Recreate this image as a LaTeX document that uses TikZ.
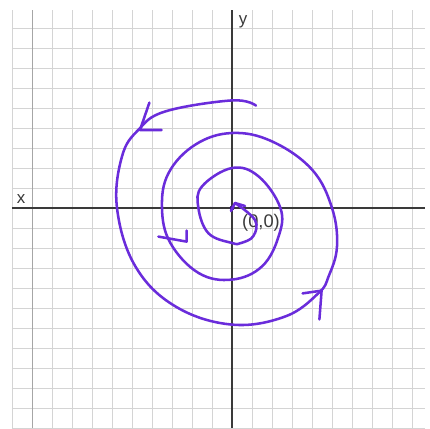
\documentclass[tikz,border=0pt]{standalone}
\usepackage{fontspec}
\setmainfont{Liberation Sans}
\usetikzlibrary{positioning}
\definecolor{penViolet}{HTML}{6A2CDB}
\definecolor{gridGray}{HTML}{D4D4D4}
\definecolor{axisGray}{HTML}{3A3A3A}

\begin{document}
\begin{tikzpicture}[x=0.5cm,y=0.5cm,every node/.style={font=\fontsize{12}{14}\selectfont,text=axisGray},
          gridline/.style={draw=gridGray,line width=0.5pt},
          axisline/.style={draw=axisGray,line width=0.9pt},
          penstroke/.style={draw=penViolet,line width=1.8pt,line cap=round,line join=round}]
        \useasboundingbox (-11.6,-11) rectangle (9.9,10.4);
        \fill[white] (-11.6,-11) rectangle (9.9,10.4);
        \draw[gridline,step=0.5cm] (-11,-11) grid (9.65,9.9);
        \draw[draw=gray!70,line width=0.6pt] (-10,-11) -- (-10,9.9);
        \coordinate (xl) at (-11,0);
        \coordinate (xr) at (9.65,0);
        \coordinate (yt) at (0,9.9);
        \coordinate (yb) at (0,-11);
        \draw[axisline] (xl) -- (xr);
        \draw[axisline] (yt) -- (yb);
        \node (ylab) at (0.55,9.33) {y};
        \node (xlab) at (-10.55,0.45) {x};
        \node[font=\fontsize{13}{15}\selectfont] (orig) at (1.45,-0.75) {(0,0)};
        % spiral, traced inward
        \draw[penstroke] plot[smooth,tension=0.65] coordinates {
            (1.2,5.12) (0,5.38) (-3.33,4.83) (-4.67,3.92) (-5.5,2.58) (-5.75,0)
            (-4.83,-2.92) (-2.83,-4.92) (0,-5.83) (2.67,-5.42) (4.33,-4.25)
            (4.83,-3.42) (5.25,-1.92) (5,0) (4,1.92) (2,3.33) (0,3.75)
            (-1.83,3.17) (-3.17,1.75) (-3.5,0) (-3.08,-1.75) (-1.67,-3.25)
            (0,-3.58) (1.5,-2.92) (2.33,-1.42) (2.42,0) (1.33,1.58) (0,2)
            (-1.5,1.08) (-1.68,0) (-1.17,-1.27) (0,-1.75) (0.45,-1.75)
            (1.07,-1.4) (1.15,-0.6) (0.15,0.25)};
        \fill[penViolet!55!black] (0,0) circle (0.12);
        % hand drawn arrow heads
        \coordinate (tipA) at (-4.6,3.9);
        \coordinate (tipB) at (4.48,-4.13);
        \coordinate (tipC) at (-2.27,-1.68);
        \coordinate (tipD) at (0.15,0.25);
        \draw[penstroke] (-4.13,5.27) -- (tipA) -- (-3.52,3.9);
        \draw[penstroke] (3.53,-4.27) -- (tipB) -- (4.37,-5.57);
        \draw[penstroke] (-3.68,-1.43) -- (tipC) -- (-2.27,-1.13);
        \draw[penstroke] (0.65,0.1) -- (tipD) -- (-0.05,-0.15);
      \end{tikzpicture}
\end{document}
